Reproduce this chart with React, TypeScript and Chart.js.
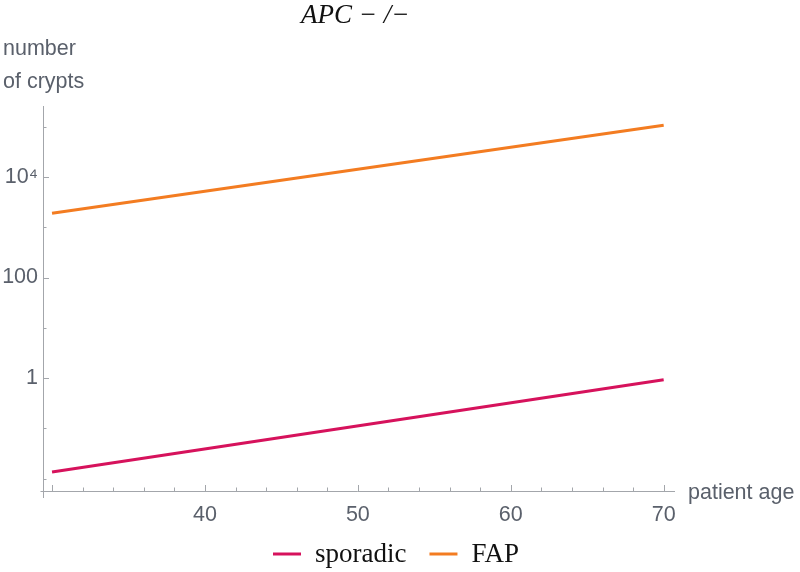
import React, { useEffect, useRef } from "react";
import { Chart, registerables } from "chart.js";

Chart.register(...registerables);

// ---- data ----
const ages = [30, 70];
const sporadic = [0.0135, 0.925];
const fap = [1896, 107000];
const seriesLabels = ["sporadic", "FAP"];
const seriesColors = ["#d6125c", "#f37c21"];

const xTicks = [30, 32, 34, 36, 38, 40, 42, 44, 46, 48, 50, 52, 54, 56, 58, 60, 62, 64, 66, 68, 70];
const xLabeled = [40, 50, 60, 70];
const yTicks = [0.01, 0.1, 1, 10, 100, 1000, 10000, 100000];
const yLabels: Record<string, string> = { "1": "1", "100": "100", "10000": "10⁴" };

const titleText = "APC − /−";
const yTitle = ["number", "of crypts"];
const xTitle = "patient age";

const AXIS = "#a3a6ab";
const TEXT = "#5a606b";
const SANS = "'Liberation Sans', Arial, sans-serif";
const SERIF = "'Liberation Serif', 'Times New Roman', serif";

const decorPlugin = {
  id: "decor",
  afterDraw(chart: any) {
    const ctx = chart.ctx as CanvasRenderingContext2D;
    const { left, right, top, bottom } = chart.chartArea;
    const xs = chart.scales.x;
    const ys = chart.scales.y;
    ctx.save();
    ctx.strokeStyle = AXIS;
    ctx.lineWidth = 1;
    // axes lines
    ctx.beginPath();
    ctx.moveTo(left - 2.5, bottom + 0.5);
    ctx.lineTo(right, bottom + 0.5);
    ctx.moveTo(left + 0.5, top);
    ctx.lineTo(left + 0.5, bottom + 7);
    ctx.stroke();
    // ticks
    ctx.beginPath();
    xTicks.forEach((v) => {
      const px = Math.round(xs.getPixelForValue(v)) + 0.5;
      const len = v % 10 === 0 ? 6 : 3.5;
      ctx.moveTo(px, bottom);
      ctx.lineTo(px, bottom - len);
    });
    yTicks.forEach((v) => {
      const py = Math.round(ys.getPixelForValue(v)) + 0.5;
      const major = yLabels[String(v)] !== undefined;
      const len = major ? 6 : 3.5;
      ctx.moveTo(left, py);
      ctx.lineTo(left + len, py);
    });
    ctx.stroke();

    // title
    ctx.fillStyle = "#111";
    ctx.font = `italic 27px ${SERIF}`;
    ctx.textAlign = "left";
    ctx.textBaseline = "alphabetic";
    ctx.fillText(titleText, 301, 23);

    // axis titles
    ctx.fillStyle = TEXT;
    ctx.font = `21.5px ${SANS}`;
    ctx.textAlign = "left";
    ctx.fillText(yTitle[0], 3, 55);
    ctx.fillText(yTitle[1], 3, 88);
    ctx.fillText(xTitle, right + 13, bottom + 8);

    // legend
    ctx.font = `27px ${SERIF}`;
    ctx.textBaseline = "alphabetic";
    let x = 273;
    const ly = 554;
    chart.data.datasets.forEach((ds: any) => {
      ctx.strokeStyle = ds.borderColor;
      ctx.lineWidth = 3;
      ctx.beginPath();
      ctx.moveTo(x, ly);
      ctx.lineTo(x + 28, ly);
      ctx.stroke();
      x += 28 + 14;
      ctx.fillStyle = "#111";
      ctx.fillText(ds.label, x, 562);
      x += ctx.measureText(ds.label).width + 23;
    });
    ctx.restore();
  },
};

export default function App() {
  const ref = useRef<HTMLCanvasElement | null>(null);
  useEffect(() => {
    document.body.style.margin = "0";
    const canvas = ref.current!;
    const chart = new Chart(canvas, {
      type: "line",
      data: {
        datasets: [
          {
            label: seriesLabels[0],
            data: ages.map((a, i) => ({ x: a, y: sporadic[i] })),
            borderColor: seriesColors[0],
            borderWidth: 3,
            pointRadius: 0,
            fill: false,
          },
          {
            label: seriesLabels[1],
            data: ages.map((a, i) => ({ x: a, y: fap[i] })),
            borderColor: seriesColors[1],
            borderWidth: 3,
            pointRadius: 0,
            fill: false,
          },
        ],
      },
      options: {
        animation: false,
        responsive: false,
        maintainAspectRatio: false,
        layout: { padding: { left: 0, right: 125, top: 106, bottom: 0 } },
        plugins: { legend: { display: false }, title: { display: false }, tooltip: { enabled: false } },
        scales: {
          x: {
            type: "linear",
            min: 29.41,
            max: 70.74,
            grid: { display: false, drawTicks: false, tickLength: 0 },
            border: { display: false },
            afterBuildTicks: (s: any) => {
              s.ticks = xTicks.map((v) => ({ value: v }));
            },
            afterFit: (s: any) => {
              s.height = 81;
            },
            ticks: {
              autoSkip: false,
              maxRotation: 0,
              padding: 11,
              color: TEXT,
              font: { family: SANS, size: 21.5 },
              callback: (v: any) => (xLabeled.includes(Number(v)) ? String(v) : ""),
            },
          },
          y: {
            type: "logarithmic",
            min: 0.00564,
            max: 259000,
            grid: { display: false, drawTicks: false, tickLength: 0 },
            border: { display: false },
            afterBuildTicks: (s: any) => {
              s.ticks = yTicks.map((v) => ({ value: v }));
            },
            afterFit: (s: any) => {
              s.width = 43;
            },
            ticks: {
              autoSkip: false,
              padding: 5,
              color: TEXT,
              font: { family: SANS, size: 21.5 },
              callback: (v: any) => yLabels[String(Number(v))] ?? "",
            },
          },
        },
      },
      plugins: [decorPlugin],
    });
    return () => chart.destroy();
  }, []);
  return <canvas ref={ref} width={800} height={572} style={{ display: "block", width: 800, height: 572 }} />;
}
